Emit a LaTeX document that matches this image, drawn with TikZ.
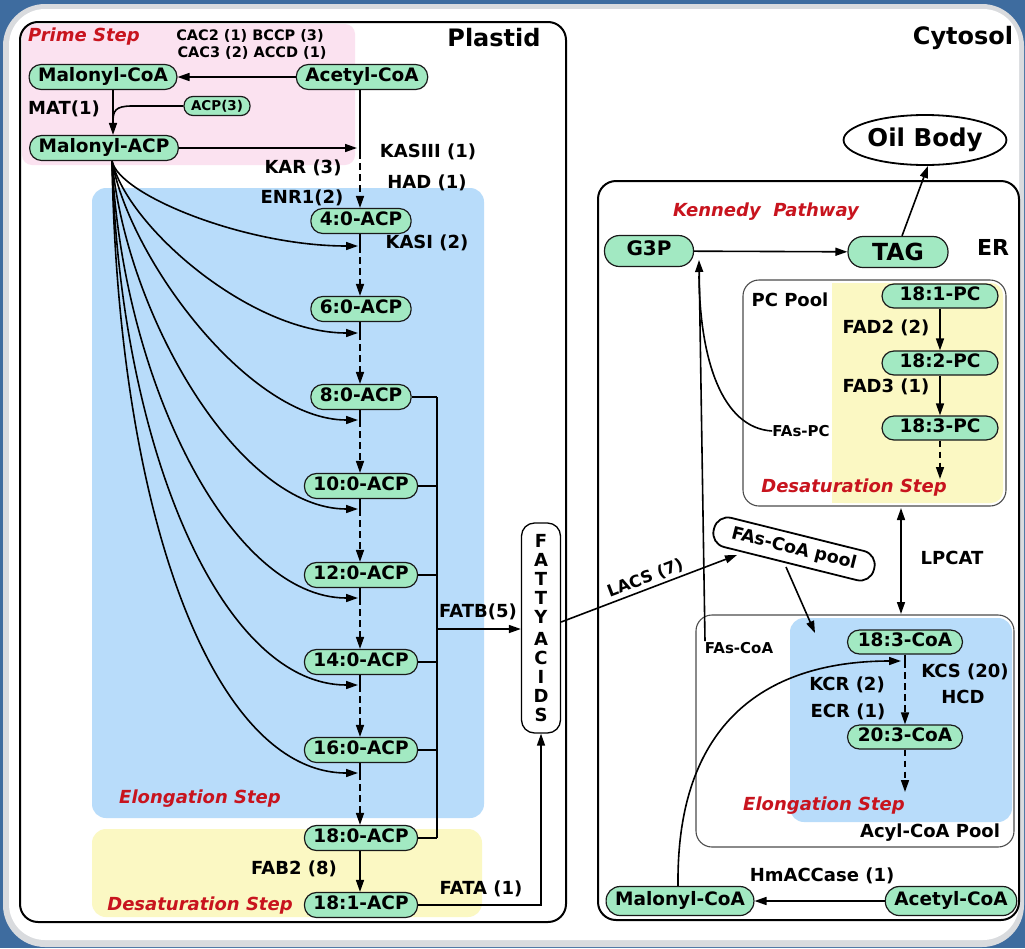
\documentclass[tikz,border=0pt]{standalone}
\usepackage{fontspec}
\setmainfont{DejaVu Sans}
\usetikzlibrary{arrows.meta,shapes.geometric}

\definecolor{slide}{HTML}{3E6C9F}
\definecolor{bevel}{HTML}{D9DBDE}
\definecolor{pinkbg}{HTML}{FBE2F0}
\definecolor{bluebg}{HTML}{B8DCFA}
\definecolor{yellowbg}{HTML}{FBF8C3}
\definecolor{ndgreen}{HTML}{A2E9C2}
\definecolor{stepred}{HTML}{C8141E}

\newcommand\fsz[1]{\fontsize{#1}{#1}\selectfont\bfseries}

\begin{document}
\begin{tikzpicture}[x=1pt,y=-1pt,
  nd/.style={draw=black!90, line width=1.2pt, fill=ndgreen, rounded corners=12pt,
    font=\fsz{18.5}, inner xsep=9pt, inner ysep=0pt, minimum height=25pt,
    text height=13pt, text depth=3.5pt},
  lbl/.style={font=\fsz{18}, inner sep=0pt},
  small/.style={font=\fsz{15}, inner sep=0pt},
  stp/.style={font=\fsz{18}\itshape, text=stepred, inner sep=0pt},
  arr/.style={line width=1.6pt, -{Triangle[length=12pt,width=8pt]}},
  ln/.style={line width=1.6pt},
  dsh/.style={dash pattern=on 6.5pt off 4.5pt},
  pool/.style={draw=black!70, line width=1.1pt, rounded corners=16pt},
  frame/.style={draw=black, line width=2pt, rounded corners=18pt}]

\useasboundingbox (0,0) rectangle (1025,948);

% slide background and white panel
\fill[slide] (0,0) rectangle (1025,948);
\fill[bevel, rounded corners=42pt] (3,4) rectangle (1024,947);
\fill[white, rounded corners=36pt] (9,9) rectangle (1019,940);

% ---------------- plastid ----------------
\fill[pinkbg, rounded corners=10pt] (22,24) rectangle (355,165);
\fill[bluebg, rounded corners=14pt] (92,188) rectangle (484,818);
\fill[yellowbg, rounded corners=14pt] (92,829) rectangle (482,917);
\draw[frame] (20,22) rectangle (566,922);

\node[font=\fsz{24}, inner sep=0pt] (plastid) at (494,38) {Plastid};
\node[stp] (prime) at (84,37) {Prime Step};
\node[font=\fsz{14.5}, inner sep=0pt] (cac2) at (250,36) {CAC2 (1) BCCP (3)};
\node[font=\fsz{14.5}, inner sep=0pt] (cac3) at (252,53) {CAC3 (2) ACCD (1)};

\node[nd] (mcoa) at (103,77) {Malonyl-CoA};
\node[nd] (acoa) at (362,77) {Acetyl-CoA};
\node[nd, font=\fsz{13.5}, minimum height=19pt, text height=10pt, text depth=2pt, inner xsep=7pt, rounded corners=9pt] (acp) at (217,106) {ACP(3)};
\node[nd] (macp) at (104,148) {Malonyl-ACP};
\node[lbl] (mat) at (64,109) {MAT(1)};

\draw[arr] (acoa) -- (mcoa);
\draw[arr] ([xshift=10pt]mcoa.south) -- ([xshift=9pt]macp.north);
\coordinate (join) at (113,122);
\draw[ln] (acp.west) -- (132,106) .. controls (115,106) and (113,111) .. (join);

\coordinate (k3) at (360,152);
\draw[arr] (macp.east) -- (357,148);

\node[lbl] (kas3) at (428,152) {KASIII (1)};
\node[lbl] (kar) at (303,168) {KAR (3)};
\node[lbl] (had) at (427,183) {HAD (1)};
\node[lbl] (enr) at (302,198) {ENR1(2)};
\node[lbl] (kas1) at (427,243) {KASI (2)};

% elongation chain of acyl-ACP
\foreach \n/\y in {4/221,6/309,8/397,10/486,12/575,14/662,16/750,18/838}
  \node[nd] (a\n) at (361,\y) {\n:0-ACP};
\node[nd] (a181) at (361,905) {18:1-ACP};

\draw[ln] (acoa.south -| k3) -- (k3);
\draw[arr, dsh] (k3) -- (a4.north -| k3);

\coordinate (fan) at (112,161);
\foreach \n/\m/\y/\cx/\cy/\dx in {4/6/246/119/195/245, 6/8/333/127/226/250, 8/10/420/130/260/250,
    10/12/509/127/318/240, 12/14/598/122/380/230, 14/16/685/120/450/222, 16/18/773/118/520/215}{
  \coordinate (e\n) at (360,\y);
  \draw[ln] (a\n.south -| e\n) -- (e\n);
  \draw[arr, dsh] (e\n) -- (a\m.north -| e\n);
  \draw[arr] (fan) .. controls (\cx,\cy) and (\dx,\y) .. (358,\y);
}

\node[stp] (elong) at (200,799) {Elongation Step};
\node[stp] (desat) at (200,906) {Desaturation Step};
\node[lbl] (fab2) at (294,869) {FAB2 (8)};
\draw[arr] (a18.south -| e16) -- (a181.north -| e16);

% thioesterases
\node[draw, line width=1.3pt, rounded corners=13pt, minimum width=39pt, minimum height=210pt,
      font=\fsz{18}, align=center, inner sep=0pt] (fa) at (541,628)
  {F\\[1pt]A\\[1pt]T\\[1pt]T\\[1pt]Y\\[4.5pt]A\\[1pt]C\\[1pt]I\\[1pt]D\\[1pt]S};

\coordinate (fatbtop) at (437,397);
\coordinate (fatbbot) at (437,838);
\foreach \n in {8,10,12,14,16,18}
  \draw[ln] (a\n.east) -- (a\n.east -| fatbtop);
\draw[ln] (fatbtop) -- (fatbbot);
\coordinate (fatbmid) at (437,629);
\draw[arr] (fatbmid) -- (fatbmid -| fa.west);
\node[lbl] (fatb) at (478,612) {FATB(5)};

\draw[arr] (a181.east) -| (fa.south);
\node[lbl] (fata) at (481,889) {FATA (1)};

% ---------------- cytosol ----------------
\node[font=\fsz{24}, inner sep=0pt] (cyto) at (963,38) {Cytosol};
\node[draw, ellipse, line width=1.8pt, minimum width=160pt, minimum height=50pt,
      font=\fsz{24.5}, inner sep=0pt] (oil) at (925,140) {Oil Body};

\draw[frame] (598,181) rectangle (1019,920);
\node[font=\fsz{22}, inner sep=0pt] (er) at (993,247) {ER};
\node[stp] (kennedy) at (766,212) {Kennedy\ \ Pathway};

\node[nd, font=\fsz{20}, minimum width=89pt, minimum height=31pt, rounded corners=15pt] (g3p) at (649,251) {G3P};
\node[nd, font=\fsz{23.5}, minimum width=100pt, minimum height=31pt, rounded corners=15pt, text height=17pt, text depth=0pt] (tag) at (898,252) {TAG};
\draw[arr] (g3p) -- (tag);
\draw[arr] ([xshift=4pt]tag.north) -- ([xshift=3pt]oil.south);

% PC pool
\fill[yellowbg, rounded corners=12pt] (832,283) rectangle (1003,503);
\fill[yellowbg] (832,283) rectangle (860,503);
\draw[pool] (743,280) rectangle (1006,506);
\node[lbl] (pcpool) at (790,300) {PC Pool};
\node[nd, minimum width=116pt, minimum height=24pt] (pc1) at (940,296) {18:1-PC};
\node[nd, minimum width=116pt, minimum height=24pt] (pc2) at (940,363) {18:2-PC};
\node[nd, minimum width=116pt, minimum height=24pt] (pc3) at (940,428) {18:3-PC};
\node[lbl] (fad2) at (886,328) {FAD2 (2)};
\node[lbl] (fad3) at (886,387) {FAD3 (1)};
\draw[arr] (pc1) -- (pc2);
\draw[arr] (pc2) -- (pc3);
\coordinate (pcend) at (940,479);
\draw[arr, dsh] (pc3.south) -- (pcend);
\node[stp] (desat2) at (854,488) {Desaturation Step};
\node[small] (faspc) at (801,431) {FAs-PC};

% acyl-CoA pool
\fill[bluebg, rounded corners=14pt] (790,618) rectangle (1012,822);
\draw[pool] (696,615) rectangle (1014,847);
\node[small] (fascoa) at (739,648) {FAs-CoA};
\node[lbl] (acylpool) at (930,833) {Acyl-CoA Pool};
\node[nd, minimum width=115pt, minimum height=24pt] (c18) at (905,642) {18:3-CoA};
\node[nd, minimum width=115pt, minimum height=24pt] (c20) at (905,737) {20:3-CoA};
\node[lbl] (kcs) at (965,672) {KCS (20)};
\node[lbl] (hcd) at (963,697) {HCD};
\node[lbl] (kcr) at (847,685) {KCR (2)};
\node[lbl] (ecr) at (848,712) {ECR (1)};
\coordinate (kcs1) at (905,661);
\draw[ln] (c18.south) -- (kcs1);
\draw[arr, dsh] (kcs1) -- (c20.north);
\coordinate (c20end) at (905,792);
\draw[arr, dsh] (c20.south) -- (c20end);
\node[stp] (elong2) at (824,806) {Elongation Step};

% FAs-CoA pool and exchange
\node[draw, line width=1.8pt, rounded corners=14pt, rotate=-14, minimum width=165pt,
      minimum height=30pt, font=\fsz{17.5}, inner sep=0pt] (fapool) at (794,549) {FAs-CoA pool};
\coordinate (lacsin) at (737,555);
\draw[arr] (fa.east |- 0,622) -- (lacsin) node[pos=0.5, above, sloped, font=\fsz{16.5}, inner sep=2.5pt] (lacs) {LACS (7)};
\coordinate (poolout) at (786,567);
\coordinate (poolin) at (815,633);
\draw[arr] (poolout) -- (poolin);

\coordinate (pctop) at (901,508);
\coordinate (coabot) at (901,614);
\draw[line width=1.6pt, {Triangle[length=12pt,width=8pt]}-{Triangle[length=12pt,width=8pt]}] (pctop) -- (coabot);
\node[lbl] (lpcat) at (952,558) {LPCAT};

% return of acyl groups to the Kennedy pathway
\coordinate (g3pin) at (699,260);
\draw[arr] ([xshift=-34pt,yshift=1pt]fascoa.north) -- (g3pin);
\draw[ln] (faspc.west) .. controls (722,428) and (700,360) .. (699,276);

% cytosolic ACCase
\node[nd, minimum height=29pt, rounded corners=14pt] (mcoa2) at (680,901) {Malonyl-CoA};
\node[nd, minimum height=29pt, rounded corners=14pt] (acoa2) at (951,901) {Acetyl-CoA};
\draw[arr] (acoa2) -- (mcoa2);
\node[lbl] (hmacc) at (822,876) {HmACCase (1)};
\coordinate (kcsin) at (901,661);
\draw[arr] ([xshift=-2pt]mcoa2.north) .. controls (676,710) and (780,661) .. (kcsin);

\end{tikzpicture}
\end{document}
